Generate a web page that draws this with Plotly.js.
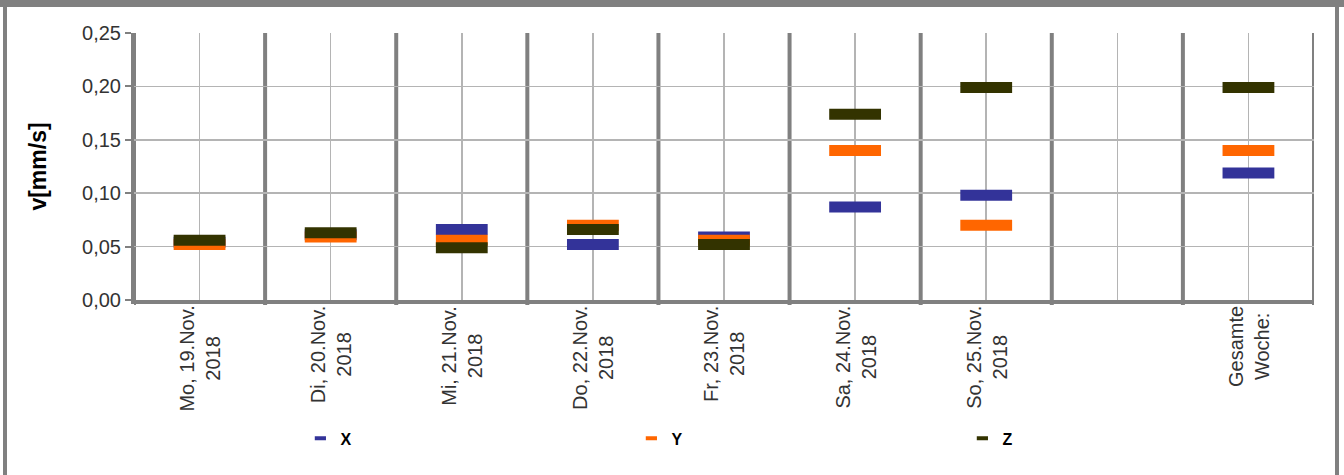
<!DOCTYPE html>
<html>
<head>
<meta charset="utf-8">
<script src="https://cdn.plot.ly/plotly-3.0.1.min.js"></script>
<style>
  html, body { margin: 0; padding: 0; background: #fff; }
  #wrap { position: relative; width: 1344px; height: 475px; overflow: hidden; }
  #chart { position: absolute; left: 0; top: 0; width: 1344px; height: 475px; }
  .frame { position: absolute; background: #808080; z-index: 10; pointer-events: none; }
</style>
</head>
<body>
<div id="wrap">
  <div id="chart"></div>
  <div class="frame" style="left:0;top:0;width:1344px;height:7px;"></div>
  <div class="frame" style="left:3px;top:0;width:4px;height:475px;"></div>
  <div class="frame" style="left:1335px;top:0;width:4px;height:475px;"></div>
</div>
<script>
// ---- data ----
const categories = [
  "Mo, 19.Nov.<br>2018",
  "Di, 20.Nov.<br>2018",
  "Mi, 21.Nov.<br>2018",
  "Do, 22.Nov.<br>2018",
  "Fr, 23.Nov.<br>2018",
  "Sa, 24.Nov.<br>2018",
  "So, 25.Nov.<br>2018",
  "",
  "Gesamte<br>Woche:"
];
const seriesNames = ["X", "Y", "Z"];
const valuesX = [0.054, 0.061, 0.066, 0.052, 0.059, 0.087, 0.098, null, 0.119];
const valuesY = [0.052, 0.059, 0.056, 0.070, 0.056, 0.140, 0.070, null, 0.140];
const valuesZ = [0.056, 0.063, 0.049, 0.066, 0.052, 0.174, 0.199, null, 0.199];
const yTickVals = [0, 0.05, 0.10, 0.15, 0.20, 0.25];
const yTitle = "v[mm/s]";

// ---- styles ----
const colors = ["#333399", "#FF6600", "#333300"];
const FONT = "Liberation Sans, Arial, sans-serif";
const GRID = "#b4b4b4";
const DARKGRID = "#808080";

const idx = categories.map((c, i) => i);
const allValues = [valuesX, valuesY, valuesZ];

const traces = [];
allValues.forEach((vals, k) => {
  traces.push({
    type: "scatter", mode: "markers",
    x: idx, y: vals,
    name: seriesNames[k], legendgroup: seriesNames[k], showlegend: false,
    marker: { symbol: "line-ew", size: 37, color: colors[k],
              line: { color: colors[k], width: 11 } },
    hoverinfo: "y"
  });
});
// legend-only entries (small symbols like the original)
allValues.forEach((vals, k) => {
  traces.push({
    type: "scatter", mode: "markers",
    x: [null], y: [null],
    name: seriesNames[k], legendgroup: seriesNames[k], showlegend: true,
    marker: { symbol: "line-ew", size: 8, color: colors[k],
              line: { color: colors[k], width: 4 } },
    hoverinfo: "skip"
  });
});

// category separators (between categories)
const seps = [];
for (let i = 0; i <= categories.length; i++) seps.push(i - 0.5);
const shapes = seps.map(s => ({
  type: "line", xref: "x", yref: "paper", layer: "below",
  x0: s, x1: s, y0: -0.019, y1: 1,
  line: { color: DARKGRID, width: 4 }
}));

const annotations = categories.map((c, i) => ({
  x: i, y: -0.015, xref: "x", yref: "paper",
  text: c, showarrow: false, textangle: -90,
  xanchor: "center", yanchor: "top", align: "center",
  font: { family: FONT, size: 20, color: "#333333" }
}));

const layout = {
  width: 1344, height: 475,
  margin: { l: 134, r: 30, t: 33, b: 175, autoexpand: false },
  paper_bgcolor: "#ffffff", plot_bgcolor: "#ffffff",
  separators: ",.",
  showlegend: true,
  font: { family: FONT, color: "#333333" },
  xaxis: {
    type: "linear", range: [-0.5, categories.length - 0.5],
    tickmode: "array", tickvals: idx, showticklabels: false, ticks: "",
    showgrid: true, gridcolor: GRID, gridwidth: 1.5,
    zeroline: false, showline: true, linecolor: DARKGRID, linewidth: 4,
    fixedrange: true
  },
  yaxis: {
    range: [0, 0.25], tickmode: "array", tickvals: yTickVals,
    tickformat: ".2f",
    ticks: "outside", ticklen: 6, tickwidth: 2, tickcolor: DARKGRID,
    tickfont: { family: FONT, size: 20, color: "#333333" },
    showgrid: true, gridcolor: GRID, gridwidth: 1.5,
    zeroline: false, showline: true, linecolor: DARKGRID, linewidth: 3,
    title: { text: yTitle, standoff: 30,
             font: { family: FONT, size: 23, color: "#000000", weight: "bold" } },
    fixedrange: true
  },
  legend: {
    orientation: "h", xref: "container", yref: "container",
    x: 0.2235, xanchor: "left", y: 0.077, yanchor: "middle",
    entrywidth: 286, entrywidthmode: "pixels", itemwidth: 30,
    font: { family: FONT, size: 16, color: "#000000", weight: "bold" },
    bgcolor: "rgba(0,0,0,0)"
  },
  shapes: shapes,
  annotations: annotations
};

Plotly.newPlot("chart", traces, layout, { displayModeBar: false, staticPlot: true });
</script>
</body>
</html>
